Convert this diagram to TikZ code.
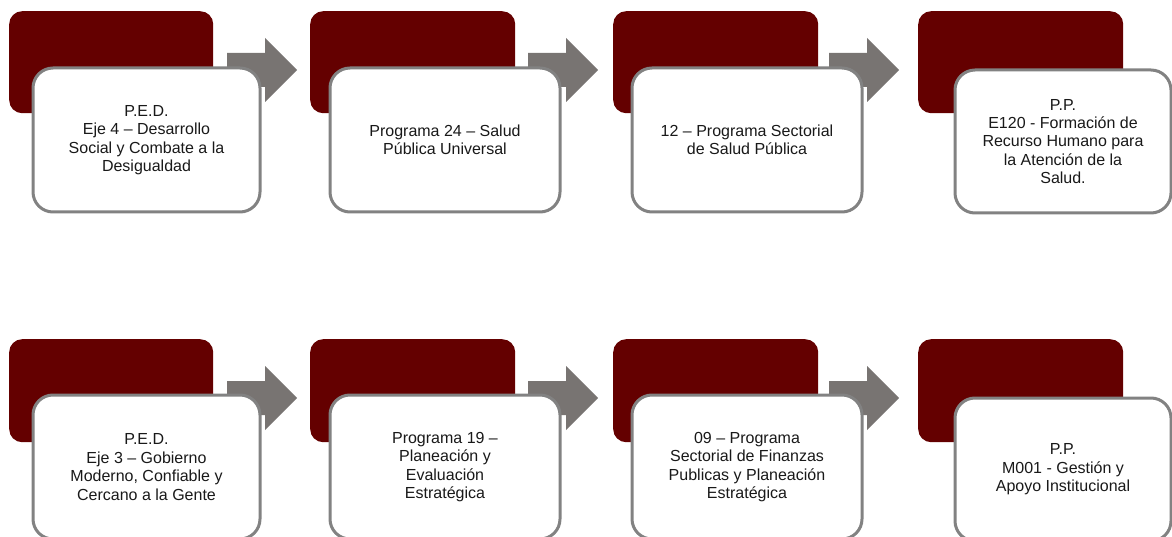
\documentclass[tikz,border=0pt]{standalone}
\usepackage{fontspec}
\setmainfont{Liberation Sans}
\definecolor{darkred}{RGB}{100,0,0}
\definecolor{arrowgray}{RGB}{120,116,114}
\definecolor{boxgray}{RGB}{130,130,130}
\begin{document}
\begin{tikzpicture}[x=1pt,y=-1pt,
  darkbox/.style={fill=darkred, rounded corners=13pt, inner sep=0pt, anchor=north west},
  whitebox/.style={fill=white, draw=boxgray, line width=3pt, rounded corners=20pt, inner sep=4pt,
     align=center, text=black!90, font=\fontsize{16}{18.4}\selectfont},
  flecha/.pic={\fill[arrowgray] (0,-17) -- (38,-17) -- (38,-32) -- (70,0) -- (38,32) -- (38,17) -- (0,17) -- cycle;}
]
\useasboundingbox (0,0) rectangle (1172,537);
\clip (0,0) rectangle (1172,537);
% ---------- top row ----------
\node[darkbox, minimum width=204pt, minimum height=102pt] (d1) at (9,11) {};
\node[darkbox, minimum width=205pt, minimum height=102pt] (d2) at (310,11) {};
\node[darkbox, minimum width=205pt, minimum height=102pt] (d3) at (613,11) {};
\node[darkbox, minimum width=205pt, minimum height=102pt] (d4) at (918,11) {};
\coordinate (a1) at (227,70);
\coordinate (a2) at (528,70);
\coordinate (a3) at (829,70);
\pic at (a1) {flecha};
\pic at (a2) {flecha};
\pic at (a3) {flecha};
\node[whitebox, minimum width=227pt, minimum height=144pt] (w1) at (146.5,140)
  {P.E.D.\\Eje 4 – Desarrollo\\Social y Combate a la\\Desigualdad};
\node[whitebox, minimum width=230pt, minimum height=144pt] (w2) at (445,140)
  {Programa 24 – Salud\\Pública Universal};
\node[whitebox, minimum width=230pt, minimum height=144pt] (w3) at (747,140)
  {12 – Programa Sectorial\\de Salud Pública};
\node[whitebox, minimum width=216pt, minimum height=143pt] (w4) at (1063,141.5)
  {P.P.\\E120 - Formación de\\Recurso Humano para\\la Atención de la\\Salud.};
% ---------- bottom row ----------
\node[darkbox, minimum width=204pt, minimum height=103pt] (d5) at (9,339) {};
\node[darkbox, minimum width=205pt, minimum height=103pt] (d6) at (310,339) {};
\node[darkbox, minimum width=205pt, minimum height=103pt] (d7) at (613,339) {};
\node[darkbox, minimum width=205pt, minimum height=103pt] (d8) at (918,339) {};
\coordinate (a4) at (227,398);
\coordinate (a5) at (528,398);
\coordinate (a6) at (829,398);
\pic at (a4) {flecha};
\pic at (a5) {flecha};
\pic at (a6) {flecha};
\node[whitebox, minimum width=227pt, minimum height=144pt] (w5) at (146.5,467)
  {P.E.D.\\Eje 3 – Gobierno\\Moderno, Confiable y\\Cercano a la Gente};
\node[whitebox, minimum width=230pt, minimum height=144pt] (w6) at (445,467)
  {Programa 19 –\\Planeación y\\Evaluación\\Estratégica};
\node[whitebox, minimum width=230pt, minimum height=144pt] (w7) at (747,467)
  {09 – Programa\\Sectorial de Finanzas\\Publicas y Planeación\\Estratégica};
\node[whitebox, minimum width=216pt, minimum height=143pt] (w8) at (1063,469.5)
  {P.P.\\M001 - Gestión y\\Apoyo Institucional};
\end{tikzpicture}
\end{document}
